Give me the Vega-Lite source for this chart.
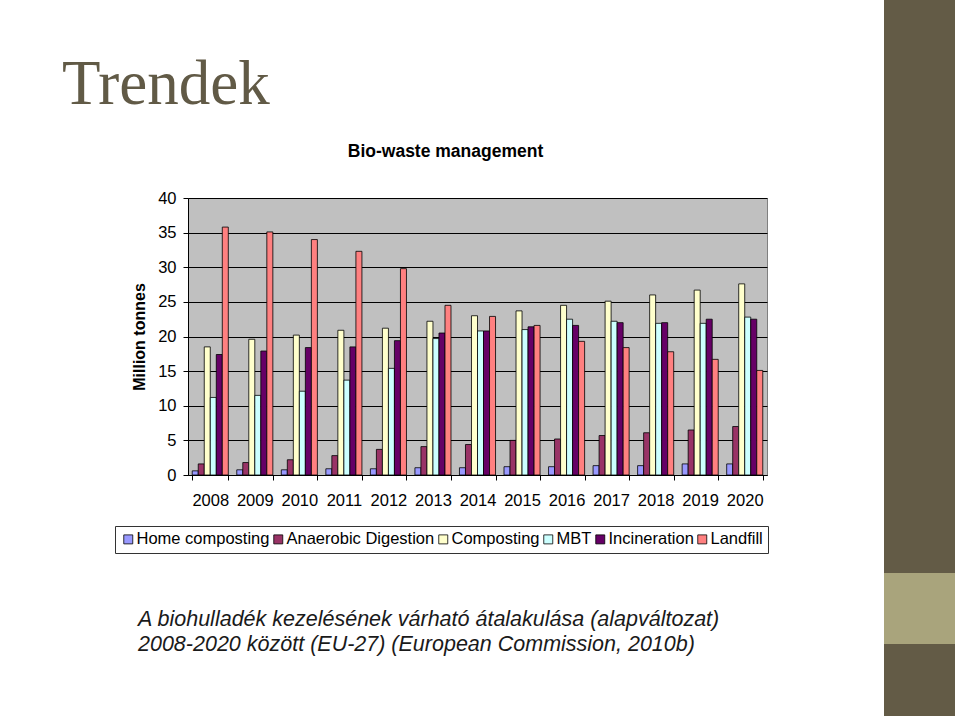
{
  "$schema": "https://vega.github.io/schema/vega-lite/v6.json",
  "background": "white",
  "padding": {"left": 62, "top": 0, "right": 4, "bottom": 2},
  "bounds": "full",
  "spacing": 116,
  "config": {
    "view": {"stroke": null},
    "font": "Liberation Sans"
  },
  "hconcat": [
    {
      "bounds": "flush",
      "spacing": 125,
      "vconcat": [
        {
          "width": 579,
          "height": 73,
          "data": {"values": [{}]},
          "mark": {"type": "point", "opacity": 0},
          "view": {"stroke": null},
          "title": {
            "text": "Trendek",
            "orient": "bottom",
            "anchor": "start",
            "frame": "group",
            "dx": -126,
            "offset": -19,
            "baseline": "top",
            "font": "Liberation Serif",
            "fontSize": 63,
            "fontWeight": "normal",
            "color": "#615a46"
          }
        },
        {
          "width": 579,
          "height": 277,
          "title": {
            "text": "Bio-waste management",
            "anchor": "middle",
            "frame": "group",
            "offset": 30,
            "dx": -32,
            "font": "Liberation Sans",
            "fontSize": 17.5,
            "fontWeight": "bold",
            "color": "black"
          },
          "view": {"fill": "#C0C0C0", "stroke": "#808080"},
          "data": {
            "values": [
              {"year": "2008", "type": "Home composting", "value": 0.6},
              {"year": "2008", "type": "Anaerobic Digestion", "value": 1.6},
              {"year": "2008", "type": "Composting", "value": 18.5},
              {"year": "2008", "type": "MBT", "value": 11.2},
              {"year": "2008", "type": "Incineration", "value": 17.4},
              {"year": "2008", "type": "Landfill", "value": 35.8},
              {"year": "2009", "type": "Home composting", "value": 0.75},
              {"year": "2009", "type": "Anaerobic Digestion", "value": 1.8},
              {"year": "2009", "type": "Composting", "value": 19.6},
              {"year": "2009", "type": "MBT", "value": 11.5},
              {"year": "2009", "type": "Incineration", "value": 17.9},
              {"year": "2009", "type": "Landfill", "value": 35.1},
              {"year": "2010", "type": "Home composting", "value": 0.75},
              {"year": "2010", "type": "Anaerobic Digestion", "value": 2.2},
              {"year": "2010", "type": "Composting", "value": 20.2},
              {"year": "2010", "type": "MBT", "value": 12.1},
              {"year": "2010", "type": "Incineration", "value": 18.4},
              {"year": "2010", "type": "Landfill", "value": 34.0},
              {"year": "2011", "type": "Home composting", "value": 0.9},
              {"year": "2011", "type": "Anaerobic Digestion", "value": 2.8},
              {"year": "2011", "type": "Composting", "value": 20.9},
              {"year": "2011", "type": "MBT", "value": 13.7},
              {"year": "2011", "type": "Incineration", "value": 18.5},
              {"year": "2011", "type": "Landfill", "value": 32.3},
              {"year": "2012", "type": "Home composting", "value": 0.9},
              {"year": "2012", "type": "Anaerobic Digestion", "value": 3.7},
              {"year": "2012", "type": "Composting", "value": 21.2},
              {"year": "2012", "type": "MBT", "value": 15.4},
              {"year": "2012", "type": "Incineration", "value": 19.4},
              {"year": "2012", "type": "Landfill", "value": 29.8},
              {"year": "2013", "type": "Home composting", "value": 1.05},
              {"year": "2013", "type": "Anaerobic Digestion", "value": 4.1},
              {"year": "2013", "type": "Composting", "value": 22.2},
              {"year": "2013", "type": "MBT", "value": 19.7},
              {"year": "2013", "type": "Incineration", "value": 20.5},
              {"year": "2013", "type": "Landfill", "value": 24.5},
              {"year": "2014", "type": "Home composting", "value": 1.05},
              {"year": "2014", "type": "Anaerobic Digestion", "value": 4.4},
              {"year": "2014", "type": "Composting", "value": 23.0},
              {"year": "2014", "type": "MBT", "value": 20.8},
              {"year": "2014", "type": "Incineration", "value": 20.8},
              {"year": "2014", "type": "Landfill", "value": 22.9},
              {"year": "2015", "type": "Home composting", "value": 1.2},
              {"year": "2015", "type": "Anaerobic Digestion", "value": 5.0},
              {"year": "2015", "type": "Composting", "value": 23.7},
              {"year": "2015", "type": "MBT", "value": 21.0},
              {"year": "2015", "type": "Incineration", "value": 21.4},
              {"year": "2015", "type": "Landfill", "value": 21.6},
              {"year": "2016", "type": "Home composting", "value": 1.2},
              {"year": "2016", "type": "Anaerobic Digestion", "value": 5.2},
              {"year": "2016", "type": "Composting", "value": 24.5},
              {"year": "2016", "type": "MBT", "value": 22.5},
              {"year": "2016", "type": "Incineration", "value": 21.6},
              {"year": "2016", "type": "Landfill", "value": 19.3},
              {"year": "2017", "type": "Home composting", "value": 1.35},
              {"year": "2017", "type": "Anaerobic Digestion", "value": 5.7},
              {"year": "2017", "type": "Composting", "value": 25.1},
              {"year": "2017", "type": "MBT", "value": 22.2},
              {"year": "2017", "type": "Incineration", "value": 22.0},
              {"year": "2017", "type": "Landfill", "value": 18.4},
              {"year": "2018", "type": "Home composting", "value": 1.35},
              {"year": "2018", "type": "Anaerobic Digestion", "value": 6.1},
              {"year": "2018", "type": "Composting", "value": 26.0},
              {"year": "2018", "type": "MBT", "value": 21.9},
              {"year": "2018", "type": "Incineration", "value": 22.0},
              {"year": "2018", "type": "Landfill", "value": 17.8},
              {"year": "2019", "type": "Home composting", "value": 1.6},
              {"year": "2019", "type": "Anaerobic Digestion", "value": 6.5},
              {"year": "2019", "type": "Composting", "value": 26.7},
              {"year": "2019", "type": "MBT", "value": 21.9},
              {"year": "2019", "type": "Incineration", "value": 22.5},
              {"year": "2019", "type": "Landfill", "value": 16.7},
              {"year": "2020", "type": "Home composting", "value": 1.6},
              {"year": "2020", "type": "Anaerobic Digestion", "value": 7.0},
              {"year": "2020", "type": "Composting", "value": 27.6},
              {"year": "2020", "type": "MBT", "value": 22.8},
              {"year": "2020", "type": "Incineration", "value": 22.5},
              {"year": "2020", "type": "Landfill", "value": 15.1}
            ]
          },
          "mark": {"type": "bar", "stroke": "black", "strokeWidth": 0.8},
          "encoding": {
            "x": {
              "field": "year",
              "type": "nominal",
              "scale": {"paddingInner": 0.19, "paddingOuter": 0.095},
              "axis": {
                "title": null,
                "labelAngle": 0,
                "labelFont": "Liberation Sans",
                "labelFontSize": 16.5,
                "labelColor": "black",
                "labelPadding": 12,
                "tickBand": "extent",
                "ticks": true,
                "tickSize": 5,
                "tickColor": "black",
                "domainColor": "black",
                "grid": false
              }
            },
            "xOffset": {
              "field": "type",
              "sort": ["Home composting", "Anaerobic Digestion", "Composting", "MBT", "Incineration", "Landfill"],
              "scale": {"paddingInner": 0, "paddingOuter": 0}
            },
            "y": {
              "field": "value",
              "type": "quantitative",
              "scale": {"domain": [0, 40], "nice": false},
              "axis": {
                "values": [0, 5, 10, 15, 20, 25, 30, 35, 40],
                "title": "Million tonnes",
                "titleFont": "Liberation Sans",
                "titleFontSize": 16,
                "titleFontWeight": "bold",
                "titleColor": "black",
                "titlePadding": 10,
                "labelFont": "Liberation Sans",
                "labelFontSize": 16.5,
                "labelColor": "black",
                "labelPadding": 7,
                "tickSize": 5,
                "tickColor": "black",
                "domainColor": "black",
                "grid": true,
                "gridColor": "black",
                "gridWidth": 1
              }
            },
            "color": {
              "field": "type",
              "type": "nominal",
              "scale": {
                "domain": ["Home composting", "Anaerobic Digestion", "Composting", "MBT", "Incineration", "Landfill"],
                "range": ["#9999FF", "#993366", "#FFFFCC", "#CCFFFF", "#660066", "#FF8080"]
              },
              "legend": {
                "title": null,
                "orient": "none",
                "legendX": -73,
                "legendY": 526,
                "direction": "horizontal",
                "columns": 6,
                "strokeColor": "#333333",
                "padding": 5,
                "symbolType": "square",
                "symbolSize": 81,
                "symbolStrokeColor": "black",
                "symbolStrokeWidth": 0.8,
                "symbolOpacity": 1,
                "labelFont": "Liberation Sans",
                "labelFontSize": 16.5,
                "labelColor": "black",
                "labelOffset": 0,
                "labelLimit": 300,
                "columnPadding": 0
              }
            }
          }
        },
        {
          "width": 579,
          "height": 9,
          "data": {"values": [{}]},
          "mark": {"type": "point", "opacity": 0},
          "view": {"stroke": null},
          "title": {
            "text": ["A biohulladék kezelésének várható átalakulása (alapváltozat)", "2008-2020 között (EU-27) (European Commission, 2010b)"],
            "orient": "bottom",
            "anchor": "start",
            "frame": "group",
            "dx": -50,
            "offset": 0,
            "baseline": "top",
            "font": "Liberation Sans",
            "fontStyle": "italic",
            "fontSize": 21.5,
            "fontWeight": "normal",
            "lineHeight": 25,
            "color": "#1a1a1a"
          }
        }
      ]
    },
    {
      "bounds": "flush",
      "spacing": 0,
      "vconcat": [
        {
          "width": 71,
          "height": 573,
          "data": {"values": [{}]},
          "mark": {"type": "point", "opacity": 0},
          "view": {"fill": "#635b46", "stroke": null}
        },
        {
          "width": 71,
          "height": 71,
          "data": {"values": [{}]},
          "mark": {"type": "point", "opacity": 0},
          "view": {"fill": "#a9a47c", "stroke": null}
        },
        {
          "width": 71,
          "height": 72,
          "data": {"values": [{}]},
          "mark": {"type": "point", "opacity": 0},
          "view": {"fill": "#635b46", "stroke": null}
        }
      ]
    }
  ]
}
